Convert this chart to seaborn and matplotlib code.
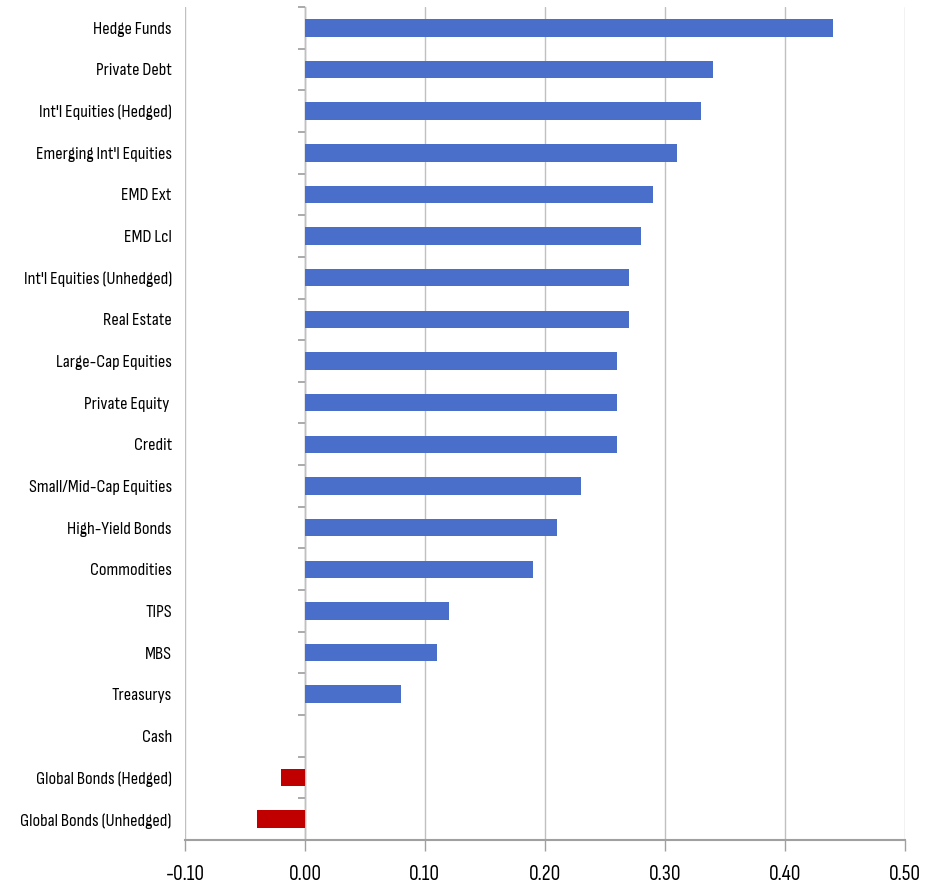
import matplotlib
matplotlib.use("Agg")
import matplotlib.pyplot as plt
import seaborn as sns
import pandas as pd
import numpy as np

categories = ["Hedge Funds", "Private Debt", "Int'l Equities (Hedged)", "Emerging Int'l Equities",
              "EMD Ext", "EMD Lcl", "Int'l Equities (Unhedged)", "Real Estate", "Large-Cap Equities",
              "Private Equity ", "Credit", "Small/Mid-Cap Equities", "High-Yield Bonds", "Commodities",
              "TIPS", "MBS", "Treasurys", "Cash", "Global Bonds (Hedged)", "Global Bonds (Unhedged)"]
values = [0.44, 0.34, 0.33, 0.31, 0.29, 0.28, 0.27, 0.27, 0.26, 0.26, 0.26, 0.23, 0.21, 0.19,
          0.12, 0.11, 0.08, 0.00, -0.02, -0.04]
xticks = [-0.10, 0.00, 0.10, 0.20, 0.30, 0.40, 0.50]

BLUE = "#4A6FCA"
RED = "#C00000"

sns.set_theme(style="white")
plt.rcParams['font.family'] = ['Sofia Sans Condensed', 'PT Sans Narrow', 'DejaVu Sans']

df = pd.DataFrame({"cat": categories, "val": values})
palette = {c: (RED if v < 0 else BLUE) for c, v in zip(categories, values)}

fig = plt.figure(figsize=(9.39, 8.9), dpi=100)
ax = fig.add_axes([185/939, 1 - 840/890, 720/939, 833/890])

sns.barplot(data=df, x="val", y="cat", hue="cat", palette=palette, legend=False,
            orient="h", width=0.42, saturation=1, linewidth=0, ax=ax)

ax.set_xlim(-0.10, 0.5004)
ax.set_ylim(len(categories) - 0.5, -0.5)
ax.set_xticks(xticks)
ax.set_xticklabels([f"{t:.2f}" for t in xticks], color="#000000")
ax.xaxis.grid(True, color="#C0C0C0", linewidth=1)
ax.set_axisbelow(True)
ax.set_xlabel("")
ax.set_ylabel("")
ax.tick_params(axis="y", length=0, pad=9.5, labelcolor="#000000")
ax.tick_params(axis="x", bottom=True, length=8, width=1, color="#A0A0A0", pad=10)
for s in ["top", "right", "left"]:
    ax.spines[s].set_visible(False)
ax.spines["bottom"].set_color("#A0A0A0")
ax.spines["bottom"].set_linewidth(1.5)

sec = ax.secondary_yaxis(1/6)
sec.spines["left"].set_color("#A0A0A0")
sec.spines["left"].set_linewidth(1)
sec.set_yticks(np.arange(-0.5, len(categories), 1.0))
sec.set_yticklabels([])
sec.tick_params(axis="y", length=5, color="#A0A0A0", direction="out")

# fit font sizes to the reference's text widths
renderer = fig.canvas.get_renderer()
ylabels = ax.get_yticklabels()
ylabels[6].set_fontsize(20)
ysize = 20 * 148 / ylabels[6].get_window_extent(renderer).width
for l in ylabels:
    l.set_fontsize(ysize)
for l in ax.get_xticklabels():
    l.set_fontsize(ysize * 1.18)

fig.savefig("out.png", dpi=100)
